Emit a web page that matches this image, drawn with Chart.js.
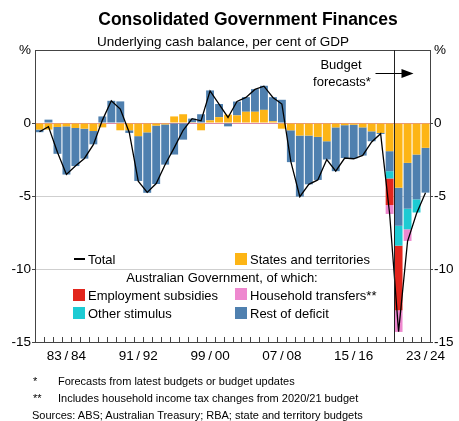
<!DOCTYPE html>
<html>
<head>
<meta charset="utf-8">
<script src="https://cdn.jsdelivr.net/npm/chart.js@4.4.0/dist/chart.umd.min.js"></script>
<style>
  body { margin: 0; width: 459px; height: 421px; position: relative; background: #fff; overflow: hidden;
         font-family: "Liberation Sans", Arial, sans-serif; color: #000; }
  #wrap { position: absolute; left: 0; top: 0; width: 459px; height: 421px; }
  .t { position: absolute; white-space: nowrap; line-height: 1; }
  .c { transform: translateX(-50%); }
  .sw { position: absolute; width: 12px; height: 12px; }
  .leg { font-size: 13px; }
  .note { font-size: 11px; }
</style>
</head>
<body>
<div id="wrap"><canvas id="chart"></canvas></div>

<div class="t c" style="left:248px; top:11px; font-size:17.5px; font-weight:bold;">Consolidated Government Finances</div>
<div class="t c" style="left:223px; top:35px; font-size:13.5px;">Underlying cash balance, per cent of GDP</div>

<div class="t c leg" style="left:341px; top:58px;">Budget</div>
<div class="t c leg" style="left:342px; top:75px;">forecasts*</div>

<!-- legend -->
<div style="position:absolute; left:74px; top:258px; width:11px; height:2px; background:#000;"></div>
<div class="t leg" style="left:88px; top:252.6px;">Total</div>
<div class="sw" style="left:235px; top:253px; background:#FDB515;"></div>
<div class="t leg" style="left:250px; top:252.6px;">States and territories</div>
<div class="t c leg" style="left:222px; top:270.6px;">Australian Government, of which:</div>
<div class="sw" style="left:73px; top:289px; background:#E2261D;"></div>
<div class="t leg" style="left:88px; top:288.6px;">Employment subsidies</div>
<div class="sw" style="left:235px; top:288px; background:#EE88CF;"></div>
<div class="t leg" style="left:250px; top:288.6px;">Household transfers**</div>
<div class="sw" style="left:73px; top:307px; background:#1DCBD3;"></div>
<div class="t leg" style="left:88px; top:306.6px;">Other stimulus</div>
<div class="sw" style="left:235px; top:307px; background:#4F80AF;"></div>
<div class="t leg" style="left:250px; top:306.6px;">Rest of deficit</div>

<!-- footnotes -->
<div class="t note" style="left:33px; top:375.7px;">*</div>
<div class="t note" style="left:58px; top:375.7px;">Forecasts from latest budgets or budget updates</div>
<div class="t note" style="left:33px; top:392.7px;">**</div>
<div class="t note" style="left:58px; top:392.7px;">Includes household income tax changes from 2020/21 budget</div>
<div class="t note" style="left:32px; top:410px;">Sources: ABS; Australian Treasury; RBA; state and territory budgets</div>

<script>
// financial years, 1980/81 to 2023/24
const years = ['80/81','81/82','82/83','83/84','84/85','85/86','86/87','87/88','88/89','89/90',
               '90/91','91/92','92/93','93/94','94/95','95/96','96/97','97/98','98/99','99/00',
               '00/01','01/02','02/03','03/04','04/05','05/06','06/07','07/08','08/09','09/10',
               '10/11','11/12','12/13','13/14','14/15','15/16','16/17','17/18','18/19','19/20',
               '20/21','21/22','22/23','23/24'];
const xTickLabels = ['83/84','91/92','99/00','07/08','15/16','23/24'];
const firstForecast = '20/21';

// per cent of GDP
const states = [-0.45,-0.45,-0.27,-0.23,-0.34,-0.39,-0.55,-0.30, 0.00,-0.50,
                -0.50,-0.90,-0.64,-0.18,-0.10, 0.45, 0.60, 0.05,-0.50, 0.18,
                 0.40, 0.57, 0.52, 0.77, 0.77, 0.90, 0.12,-0.39,-0.50,-0.86,
                -0.86,-0.95,-1.25,-0.30,-0.15,-0.12,-0.30,-0.57,-0.68,-1.93,
                -4.43,-2.73,-2.16,-1.70];
const restOfDeficit = [-0.18, 0.23,-1.84,-3.30,-2.61,-2.05,-0.91, 0.45, 1.52, 1.48,
                       -0.18,-3.07,-4.14,-4.00,-2.75,-2.16,-1.14, 0.25, 0.60, 2.05,
                        0.90,-0.23, 0.95, 1.00, 1.55, 1.65, 1.65, 1.59,-2.18,-4.18,
                       -3.34,-2.95,-1.25,-3.00,-2.25,-2.30,-1.93,-0.68,-0.07,-1.37,
                       -2.61,-3.14,-3.07,-3.07];
const otherStimulus = [0,0,0,0,0,0,0,0,0,0, 0,0,0,0,0,0,0,0,0,0, 0,0,0,0,0,0,0,0,0,0,
                       0,0,0,0,0,0,0,0,0,-0.50, -1.36,-1.41,-0.90,0];
const employmentSubsidies = [0,0,0,0,0,0,0,0,0,0, 0,0,0,0,0,0,0,0,0,0, 0,0,0,0,0,0,0,0,0,0,
                             0,0,0,0,0,0,0,0,0,-1.82, -4.43,0,0,0];
const householdTransfers = [0,0,0,0,0,0,0,0,0,0, 0,0,0,0,0,0,0,0,0,0, 0,0,0,0,0,0,0,0,0,0,
                            0,0,0,0,0,0,0,0,0,-0.61, -1.48,-0.80,0,0];
const total = [-0.60,-0.25,-2.00,-3.52,-2.95,-2.43,-1.48, 0.18, 1.52, 0.95,
               -0.65,-3.98,-4.75,-4.15,-2.84,-1.70,-0.50, 0.30, 0.15, 2.20,
                1.30, 0.38, 1.48, 1.75, 2.30, 2.52, 1.75, 1.30,-2.65,-5.05,
               -4.20,-3.90,-2.50,-3.30,-2.40,-2.45,-2.22,-1.30,-0.73,-6.20,
              -14.30,-8.10,-6.20,-4.77];

const yTicks = [5, 0, -5, -10, -15];

Chart.defaults.font.family = '"Liberation Sans", Arial, sans-serif';
Chart.defaults.color = '#000';

const frame = {
  id: 'frame',
  afterDraw(chart) {
    const { ctx, chartArea: a, scales: { x } } = chart;
    const pitch = (a.right - a.left) / years.length;
    ctx.save();
    ctx.strokeStyle = '#444';
    ctx.lineWidth = 1;
    // inward ticks on the bottom axis
    ctx.beginPath();
    for (let k = 1; k < years.length; k++) {
      const px = Math.round(a.left + k * pitch) + 0.5;
      ctx.moveTo(px, a.bottom);
      ctx.lineTo(px, a.bottom - 5);
    }
    ctx.stroke();
    ctx.strokeRect(Math.round(a.left) + 0.5, Math.round(a.top) + 0.5,
                   Math.round(a.right - a.left), Math.round(a.bottom - a.top));
    // forecasts divider
    const i = years.indexOf(firstForecast);
    const lx = Math.round((x.getPixelForValue(i - 1) + x.getPixelForValue(i)) / 2) + 0.5;
    ctx.strokeStyle = '#222';
    ctx.beginPath();
    ctx.moveTo(lx, a.top);
    ctx.lineTo(lx, a.bottom);
    ctx.stroke();
    // arrow
    const ay = 73.5;
    ctx.strokeStyle = '#000';
    ctx.beginPath();
    ctx.moveTo(lx - 19, ay);
    ctx.lineTo(lx + 9, ay);
    ctx.stroke();
    ctx.fillStyle = '#000';
    ctx.beginPath();
    ctx.moveTo(lx + 19, ay);
    ctx.lineTo(lx + 7, ay - 4.5);
    ctx.lineTo(lx + 7, ay + 4.5);
    ctx.closePath();
    ctx.fill();
    ctx.restore();
  }
};

function barSet(label, data, color) {
  return { type: 'bar', label, data, backgroundColor: color, borderWidth: 0,
           barPercentage: 0.88, categoryPercentage: 1.0, order: 1 };
}

const yScale = (pos, width) => ({
  position: pos, min: -15, max: 5, stacked: true,
  afterBuildTicks(s) { s.ticks = yTicks.map(v => ({ value: v })); },
  afterFit(s) { s.width = width; },
  border: { display: false },
  grid: {
    drawOnChartArea: pos === 'left',
    color: c => c.tick.value === 0 ? '#dc8aa8' : (c.tick.value === -5 || c.tick.value === -10 ? '#cfcfcf' : 'rgba(0,0,0,0)'),
    tickColor: c => c.tick.value === 5 ? 'rgba(0,0,0,0)' : '#444',
    tickLength: 3
  },
  ticks: { padding: 1, font: { size: 13.5 }, color: '#000',
           callback: v => v === 5 ? '%' : String(v) }
});

new Chart(document.getElementById('chart'), {
  data: {
    labels: years,
    datasets: [
      { type: 'line', label: 'Total', data: total, borderColor: '#000', borderWidth: 1.3,
        pointRadius: 0, tension: 0, fill: false, order: 0, stack: 'total' },
      barSet('States and territories', states, '#FDB515'),
      barSet('Rest of deficit', restOfDeficit, '#4F80AF'),
      barSet('Other stimulus', otherStimulus, '#1DCBD3'),
      barSet('Employment subsidies', employmentSubsidies, '#E2261D'),
      barSet('Household transfers', householdTransfers, '#EE88CF')
    ]
  },
  options: {
    responsive: true,
    maintainAspectRatio: false,
    animation: false,
    layout: { padding: { top: 50, bottom: 55, left: 0, right: 0 } },
    plugins: { legend: { display: false }, tooltip: { enabled: false } },
    scales: {
      x: {
        stacked: true, offset: true,
        grid: { display: false, drawTicks: false },
        border: { display: false },
        afterFit(s) { s.height = 24; },
        ticks: {
          autoSkip: false, maxRotation: 0, padding: 6, font: { size: 13.5 }, color: '#000',
          callback(v) {
            const lab = this.getLabelForValue(v);
            return xTickLabels.includes(lab) ? lab.replace('/', '\u2009/\u2009') : '';
          }
        }
      },
      y: yScale('left', 35),
      y2: yScale('right', 29)
    }
  },
  plugins: [frame]
});
</script>
</body>
</html>
